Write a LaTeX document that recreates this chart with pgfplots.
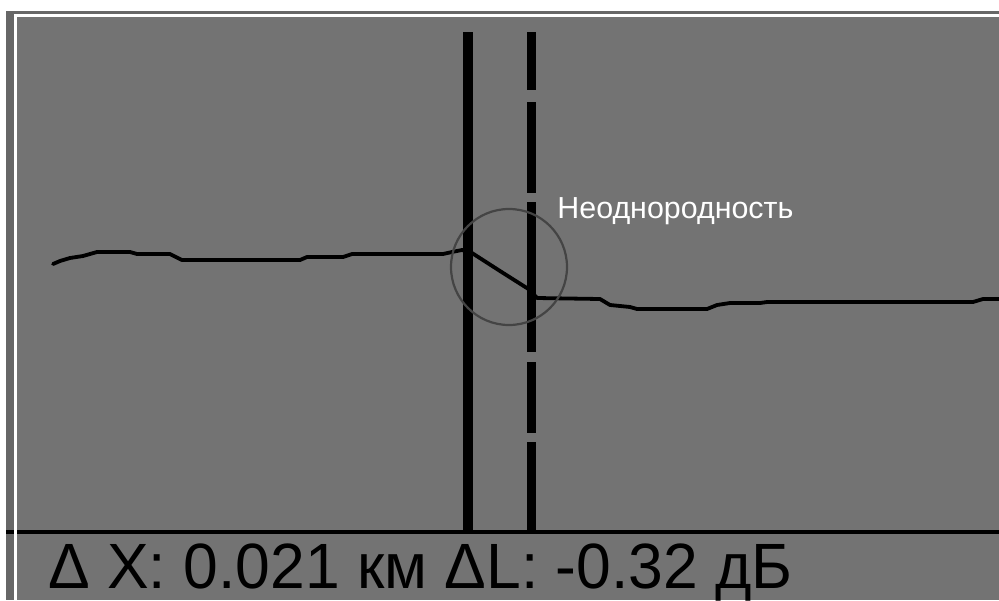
\documentclass[border=0pt]{standalone}
\usepackage{graphicx}
\usepackage{pgfplots}
\pgfplotsset{compat=1.18}
\usepackage{fontspec}
\setmainfont{Liberation Sans}
\definecolor{bg}{HTML}{737373}
\definecolor{bgdark}{HTML}{676767}
\definecolor{circ}{HTML}{444444}
\begin{document}
\begin{tikzpicture}
\begin{axis}[
  width=499.5pt, height=300pt, scale only axis,
  xmin=0, xmax=999, ymin=0, ymax=600, y dir=reverse,
  hide axis, clip=true,
]
% background
\fill[white] (axis cs:0,0) rectangle (axis cs:999,600);
\fill[bgdark] (axis cs:6,11) rectangle (axis cs:999,600);
\fill[bg] (axis cs:17,17) rectangle (axis cs:999,600);
% bottom separator
\addplot[black, line width=2pt] coordinates {(6,532) (999,532)};
% white frame
\addplot[white, line width=1.6pt] coordinates {(15.5,600) (15.5,15.5) (999,15.5)};
% markers
\addplot[black, line width=4.6pt] coordinates {(468,32) (468,532)};
\addplot[black, line width=4.2pt] coordinates {(531.5,32) (531.5,90)};
\addplot[black, line width=4.2pt] coordinates {(531.5,102) (531.5,193)};
\addplot[black, line width=4.2pt] coordinates {(531.5,202) (531.5,352)};
\addplot[black, line width=4.2pt] coordinates {(531.5,362) (531.5,433)};
\addplot[black, line width=4.2pt] coordinates {(531.5,442) (531.5,532)};
% trace
\addplot[black, line width=1.9pt, line join=round, line cap=round] coordinates {
(53,264) (60,261) (70,258) (83,256) (97,252) (130,252) (137,254) (170,254)
(176,257) (182,260) (300,260) (307,257) (343,257) (352,254) (443,254)
(452,252) (462,250) (472,253) (500,271) (530,290) (537,298) (600,299)
(610,305) (630,307) (637,309) (707,309) (717,305) (730,303) (760,303)
(767,302) (973,302) (983,299) (999,299)};
% circle
\draw[circ, line width=1.1pt] (axis cs:509,267) circle[radius=29pt];
% texts
\node[anchor=base west, inner sep=0pt, text=white, font=\fontsize{15.2pt}{18pt}\selectfont] at (axis cs:557,218) {Неоднородность};
\node[anchor=base west, inner sep=0pt, text=black, font=\fontsize{32pt}{36pt}\selectfont] at (axis cs:48,588) {\scalebox{0.975}[1]{Δ X: 0.021 км ΔL: -0.32 дБ}};
\end{axis}
\end{tikzpicture}
\end{document}
